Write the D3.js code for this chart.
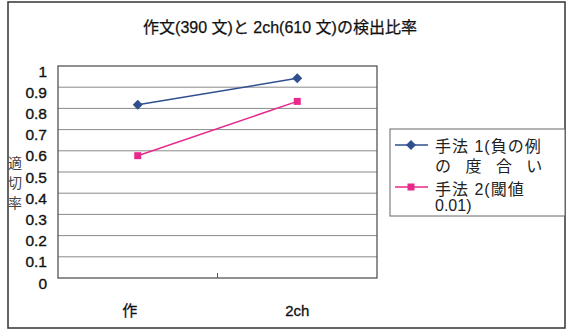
<!DOCTYPE html>
<html>
<head>
<meta charset="utf-8">
<script src="https://cdn.jsdelivr.net/npm/d3@7"></script>
<style>
  body { margin: 0; background: #fff; }
  text { font-family: "Liberation Sans", Arial, "Noto Sans CJK JP", sans-serif; }
</style>
</head>
<body>
<svg id="chart" width="567" height="331"></svg>
<script>
const categories = ["作", "2ch"];
const seriesNames = [["手法 1(負の例", "の 度 合 い"], ["手法 2(閾値", "0.01)"]];
const method1 = [0.817, 0.942];
const method2 = [0.577, 0.833];
const yTicks = [0, 0.1, 0.2, 0.3, 0.4, 0.5, 0.6, 0.7, 0.8, 0.9, 1];

const svg = d3.select("#chart");
const m = { left: 58, right: 377, top: 66, bottom: 278 };

// outer frame
svg.append("rect").attr("x", 8).attr("y", 2).attr("width", 557).attr("height", 326)
  .attr("fill", "#fff").attr("stroke", "#333").attr("stroke-width", 1.5);

svg.append("text").attr("x", 280).attr("y", 33).attr("text-anchor", "middle")
  .attr("font-size", 16).attr("fill", "#111").attr("stroke", "#111").attr("stroke-width", 0.25)
  .text("作文(390 文)と 2ch(610 文)の検出比率");

const x = d3.scaleBand().domain(categories).range([m.left, m.right]);
const y = d3.scaleLinear().domain([0, 1]).range([m.bottom, m.top]);

// gridlines
svg.append("g").selectAll("line").data(yTicks.slice(1, -1)).join("line")
  .attr("x1", m.left).attr("x2", m.right)
  .attr("y1", d => y(d)).attr("y2", d => y(d))
  .attr("stroke", "#8a8a8a").attr("stroke-width", 1);

svg.append("rect").attr("x", m.left).attr("y", m.top)
  .attr("width", m.right - m.left).attr("height", m.bottom - m.top)
  .attr("fill", "none").attr("stroke", "#555").attr("stroke-width", 1.3);

// category divider tick
svg.append("line").attr("x1", x("2ch")).attr("x2", x("2ch"))
  .attr("y1", m.bottom).attr("y2", m.bottom - 5).attr("stroke", "#555");

// y tick labels (sit a little below their gridlines, as in the scan)
svg.append("g").selectAll("text").data(yTicks).join("text")
  .attr("x", 47).attr("y", d => y(d) + 10.5).attr("text-anchor", "end")
  .attr("font-size", 15.5).attr("fill", "#111").attr("stroke", "#111").attr("stroke-width", 0.35)
  .text(d => d);

// y axis title, stacked vertically
svg.append("g").selectAll("text").data(["適", "切", "率"]).join("text")
  .attr("x", 15).attr("y", (d, i) => 168 + i * 20).attr("text-anchor", "middle")
  .attr("font-size", 14).attr("fill", "#444").text(d => d);

// x labels
svg.append("g").selectAll("text").data(categories).join("text")
  .attr("x", d => x(d) + x.bandwidth() / 2 + (d === "作" ? -8 : 0))
  .attr("y", 316).attr("text-anchor", "middle")
  .attr("font-size", 15).attr("fill", "#111").attr("stroke", "#111").attr("stroke-width", 0.3)
  .text(d => d);

const line = d3.line().x((d, i) => x(categories[i]) + x.bandwidth() / 2).y(d => y(d));
const blue = "#2f4f8f", pink = "#e8288a";

svg.append("path").datum(method1).attr("d", line)
  .attr("fill", "none").attr("stroke", blue).attr("stroke-width", 1.5);
svg.append("path").datum(method2).attr("d", line)
  .attr("fill", "none").attr("stroke", pink).attr("stroke-width", 1.5);

// diamond = rotated square
const diamond = "M0,-5L5,0L0,5L-5,0Z";
svg.append("g").selectAll("path").data(method1).join("path")
  .attr("d", diamond)
  .attr("transform", (d, i) => `translate(${x(categories[i]) + x.bandwidth() / 2},${y(d)})`)
  .attr("fill", blue);
svg.append("g").selectAll("rect").data(method2).join("rect")
  .attr("x", (d, i) => x(categories[i]) + x.bandwidth() / 2 - 3.5)
  .attr("y", d => y(d) - 3.5).attr("width", 7).attr("height", 7)
  .attr("fill", pink);

// legend
const lg = svg.append("g");
lg.append("rect").attr("x", 390).attr("y", 129).attr("width", 175).attr("height", 87)
  .attr("fill", "#fff").attr("stroke", "#666");
const items = [
  { color: blue, y: 145, shape: "diamond", lines: seriesNames[0], dy: [7, 27], ls: [1, 5] },
  { color: pink, y: 187, shape: "square", lines: seriesNames[1], dy: [8, 24], ls: [1, 0] }
];
items.forEach(it => {
  lg.append("line").attr("x1", 395).attr("x2", 428).attr("y1", it.y).attr("y2", it.y)
    .attr("stroke", it.color).attr("stroke-width", 1.5);
  if (it.shape === "diamond") {
    lg.append("path").attr("d", diamond).attr("transform", `translate(411,${it.y})`).attr("fill", it.color);
  } else {
    lg.append("rect").attr("x", 407.5).attr("y", it.y - 3.5).attr("width", 7).attr("height", 7).attr("fill", it.color);
  }
  it.lines.forEach((t, i) => {
    lg.append("text").attr("x", 435).attr("y", it.y + it.dy[i])
      .attr("font-size", 16).attr("fill", "#222")
      .attr("letter-spacing", it.ls[i])
      .text(t);
  });
});
</script>
</body>
</html>
